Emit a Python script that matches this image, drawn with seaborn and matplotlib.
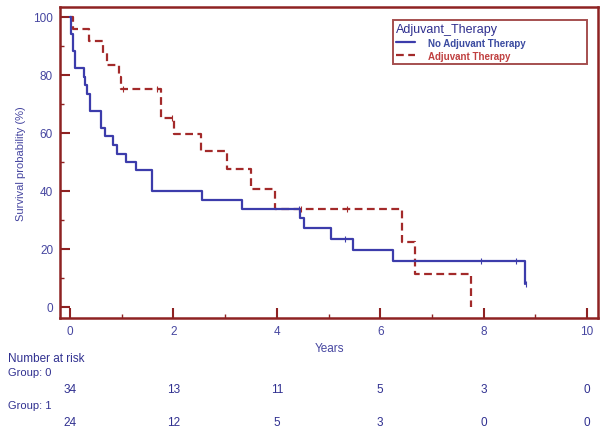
import matplotlib
matplotlib.use('Agg')
import matplotlib.pyplot as plt
import matplotlib.transforms as mtransforms
from matplotlib.ticker import MultipleLocator
import seaborn as sns
import pandas as pd

# Kaplan-Meier step points (years, survival %)
no_adj_time = [0, 0.03, 0.06, 0.10, 0.27, 0.30, 0.34, 0.39, 0.60, 0.68, 0.84, 0.91,
               1.08, 1.28, 1.59, 2.55, 3.32, 4.45, 4.52, 5.05, 5.47, 6.24, 8.80]
no_adj_surv = [100, 94.1, 88.2, 82.4, 79.4, 76.5, 73.5, 67.6, 61.8, 58.8, 55.9, 52.9,
               50.0, 47.1, 40.0, 37.0, 33.9, 30.6, 27.2, 23.5, 19.8, 15.8, 7.9]
no_adj_cens_time = [4.43, 5.32, 7.95, 8.63, 8.82]
no_adj_cens_surv = [33.9, 23.5, 15.8, 15.8, 7.9]

adj_time = [0, 0.065, 0.37, 0.64, 0.71, 0.95, 0.99, 1.77, 2.01, 2.53, 3.03, 3.51,
            3.97, 6.43, 6.67, 7.75]
adj_surv = [100, 95.8, 91.7, 87.5, 83.3, 79.2, 75.0, 65.2, 59.6, 53.9, 47.7, 40.8,
            33.8, 22.5, 11.3, 0]
adj_cens_time = [1.02, 1.68, 1.97, 4.47, 5.35]
adj_cens_surv = [75.0, 75.0, 65.2, 33.8, 33.8]

risk_times = [0, 2, 4, 6, 8, 10]
risk_group0 = [34, 13, 11, 5, 3, 0]
risk_group1 = [24, 12, 5, 3, 0, 0]

BLUE = '#3c3cab'
RED = '#a32a2a'
SPINE = '#8e2222'
TEXT = '#4646a0'
RISK = '#303090'

sns.set_style('white')
plt.rcParams['font.family'] = ['Liberation Sans', 'DejaVu Sans']

fig = plt.figure(figsize=(6.08, 4.35), dpi=100)
ax = fig.add_axes([0.0987, 0.2667, 0.8849, 0.7149])

df0 = pd.DataFrame({'time': no_adj_time, 'surv': no_adj_surv})
df1 = pd.DataFrame({'time': adj_time, 'surv': adj_surv})

sns.lineplot(data=df1, x='time', y='surv', color=RED, linewidth=1.6,
             drawstyle='steps-post', errorbar=None, label='Adjuvant Therapy', ax=ax)
ax.lines[-1].set_dashes((3.5, 2))
sns.lineplot(data=df0, x='time', y='surv', color=BLUE, linewidth=1.6,
             drawstyle='steps-post', errorbar=None, label='No Adjuvant Therapy', ax=ax)

# censor ticks
ax.plot(no_adj_cens_time, no_adj_cens_surv, linestyle='none', marker='|',
        markersize=5, markeredgewidth=0.8, color=BLUE)
ax.plot(adj_cens_time, adj_cens_surv, linestyle='none', marker='|',
        markersize=5, markeredgewidth=0.8, color=RED)

ax.set_xlim(-0.19, 10.21)
ax.set_ylim(-3.8, 103.4)
ax.xaxis.set_major_locator(MultipleLocator(2))
ax.xaxis.set_minor_locator(MultipleLocator(1))
ax.yaxis.set_major_locator(MultipleLocator(20))
ax.yaxis.set_minor_locator(MultipleLocator(10))
ax.tick_params(which='major', direction='in', length=7.5, width=1.5, color=SPINE,
               labelsize=8.5, labelcolor=TEXT, pad=5)
ax.tick_params(which='minor', direction='in', length=3, width=1.0, color=SPINE)
ax.tick_params(axis='x', which='both', bottom=True)
ax.tick_params(axis='y', which='both', left=True)
for sp in ax.spines.values():
    sp.set_color(SPINE)
    sp.set_linewidth(1.8)

ax.set_xlabel('Years', fontsize=8.5, color=TEXT, labelpad=4)
ax.set_ylabel('Survival probability (%)', fontsize=8, color=TEXT, labelpad=5)

# legend: blue first, red second
handles, labels = ax.get_legend_handles_labels()
handles, labels = handles[::-1], labels[::-1]
leg = ax.legend(handles, labels, title='Adjuvant_Therapy', loc='upper left',
                bbox_to_anchor=(0.619, 0.794, 0.3606, 0.164), mode='expand',
                borderaxespad=0, fontsize=7, title_fontsize=9, frameon=True,
                fancybox=False, handlelength=2.0, handletextpad=1.3,
                labelspacing=0.3, borderpad=0.3, alignment='left')
leg.get_frame().set_edgecolor(SPINE)
leg.get_frame().set_linewidth(1.4)
leg.get_title().set_color('#2e2e8e')
leg.get_texts()[0].set_color('#3a4aa0')
leg.get_texts()[1].set_color('#c04040')
for t in leg.get_texts():
    t.set_fontweight('semibold')

# number at risk table below the axes
trans = mtransforms.blended_transform_factory(ax.transData, fig.transFigure)
fig.text(0.013, 1 - 359 / 435, 'Number at risk', fontsize=8.5, color=RISK, va='center')
fig.text(0.013, 1 - 373 / 435, 'Group: 0', fontsize=8, color=RISK, va='center')
fig.text(0.013, 1 - 406 / 435, 'Group: 1', fontsize=8, color=RISK, va='center')
for t, n0, n1 in zip(risk_times, risk_group0, risk_group1):
    ax.text(t, 1 - 390 / 435, str(n0), transform=trans, fontsize=8.5,
            color=RISK, ha='center', va='center')
    ax.text(t, 1 - 423 / 435, str(n1), transform=trans, fontsize=8.5,
            color=RISK, ha='center', va='center')

fig.savefig('out.png', dpi=100, facecolor='white')
